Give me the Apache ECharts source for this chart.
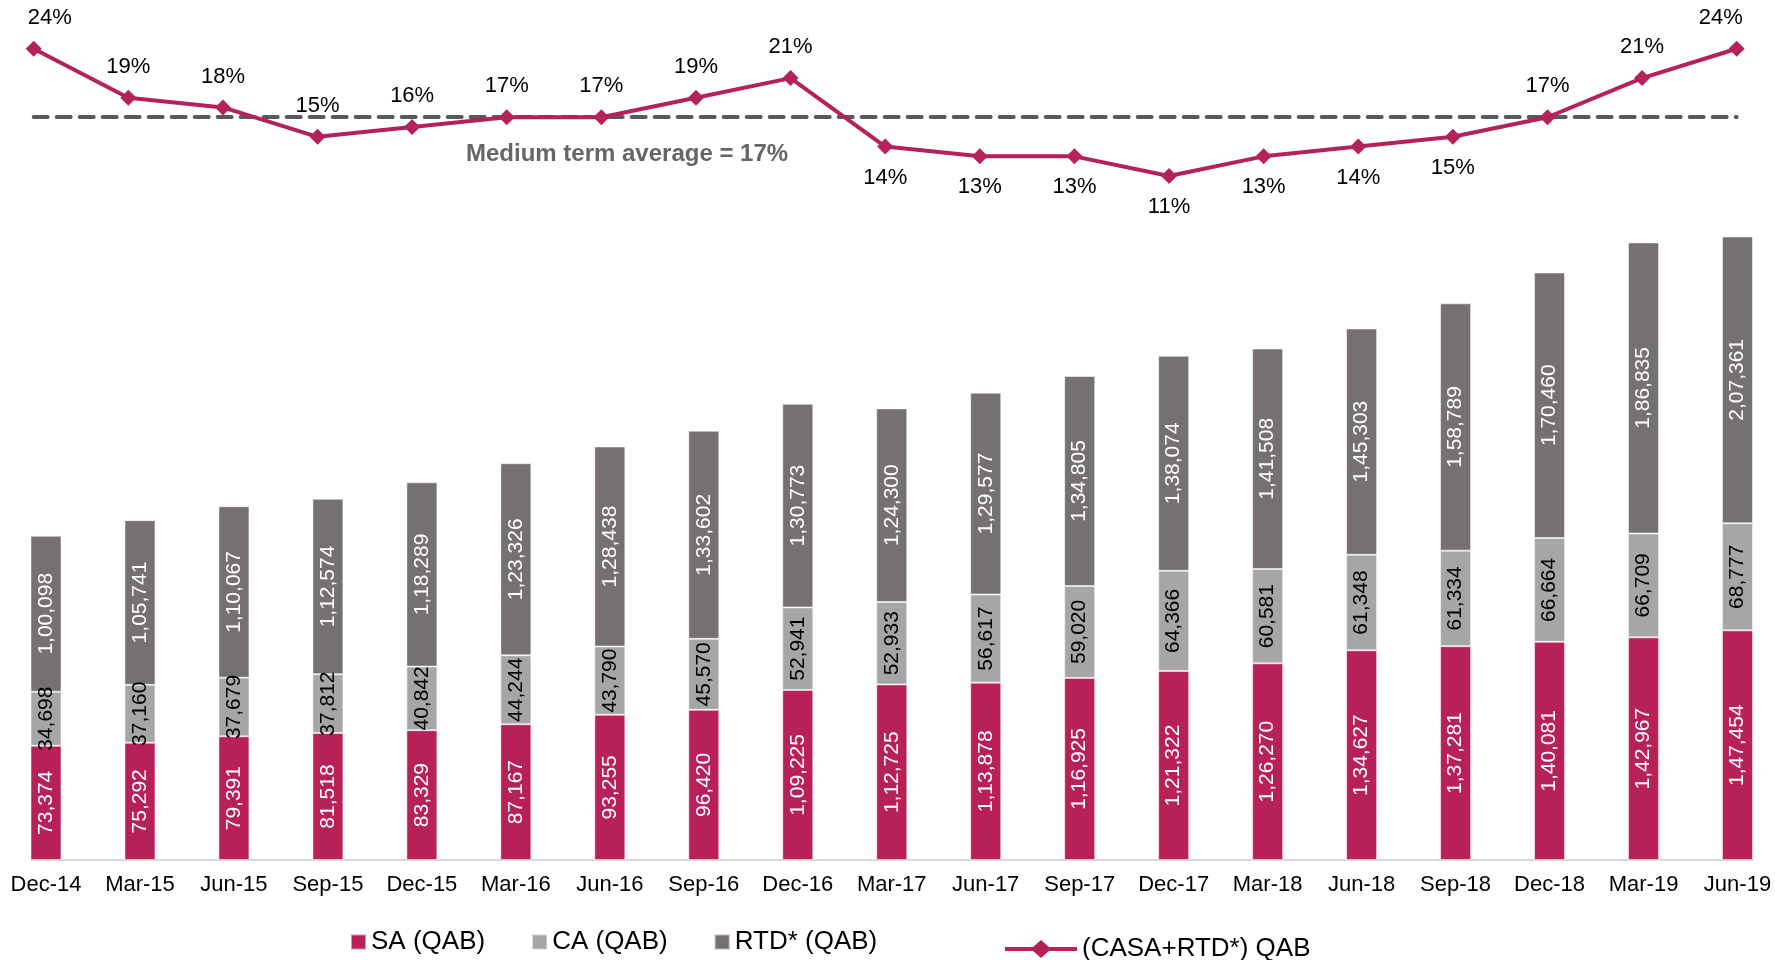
<!DOCTYPE html>
<html>
<head>
<meta charset="utf-8">
<script src="https://cdn.jsdelivr.net/npm/echarts@6/dist/echarts.min.js"></script>
<style>
html, body { margin: 0; padding: 0; background: #fff; }
#container { width: 1775px; height: 960px; }
</style>
</head>
<body>
<div id="container"></div>
<script>
var quarters = ['Dec-14','Mar-15','Jun-15','Sep-15','Dec-15','Mar-16','Jun-16','Sep-16','Dec-16','Mar-17',
                'Jun-17','Sep-17','Dec-17','Mar-18','Jun-18','Sep-18','Dec-18','Mar-19','Jun-19'];
var saValues = [73374, 75292, 79391, 81518, 83329, 87167, 93255, 96420, 109225, 112725,
                113878, 116925, 121322, 126270, 134627, 137281, 140081, 142967, 147454];
var caValues = [34698, 37160, 37679, 37812, 40842, 44244, 43790, 45570, 52941, 52933,
                56617, 59020, 64366, 60581, 61348, 61334, 66664, 66709, 68777];
var rtdValues = [100098, 105741, 110067, 112574, 118289, 123326, 128438, 133602, 130773, 124300,
                 129577, 134805, 138074, 141508, 145303, 158789, 170460, 186835, 207361];
var growthPct = [24, 19, 18, 15, 16, 17, 17, 19, 21, 14, 13, 13, 11, 13, 14, 15, 17, 21, 24];
var averagePct = 17;
var barAxisMax = 400000;

var dom = document.getElementById("container");
var myChart = echarts.init(dom);
var font = 'Liberation Sans, Arial, sans-serif';

// indian style grouping, e.g. 1,00,098
function inr(v) {
    var s = String(v);
    if (s.length <= 3) return s;
    var last3 = s.slice(-3);
    var rest = s.slice(0, -3);
    return rest.replace(/\B(?=(\d{2})+(?!\d))/g, ',') + ',' + last3;
}

var labelsBelow = [9, 10, 11, 12, 13, 14, 15];
var lineData = growthPct.map(function (v, i) {
    var item = { value: v, label: { position: labelsBelow.indexOf(i) >= 0 ? 'bottom' : 'top' } };
    if (i === 0) item.label.offset = [16, 0];
    if (i === growthPct.length - 1) item.label.offset = [-16, 0];
    return item;
});

function barLabel(color) {
    return {
        show: true,
        position: 'inside',
        rotate: 90,
        color: color,
        fontFamily: font,
        fontSize: 21,
        formatter: function (p) { return inr(p.value); }
    };
}

// line + diamond legend marker
var lineIcon = 'path://M0,7 L28,7 L36,0 L44,7 L72,7 L72,11 L44,11 L36,18 L28,11 L0,11 Z';

var option = {
    backgroundColor: '#ffffff',
    animation: false,
    textStyle: { fontFamily: font },
    legend: [
        {
            data: ['SA (QAB)', 'CA (QAB)', 'RTD* (QAB)'],
            left: 345,
            top: 924,
            icon: 'rect',
            itemWidth: 15,
            itemHeight: 15,
            itemGap: 46,
            textStyle: { fontSize: 26, color: '#000', fontFamily: font }
        },
        {
            data: ['(CASA+RTD*) QAB'],
            left: 1000,
            top: 931,
            icon: lineIcon,
            itemWidth: 72,
            itemHeight: 18,
            textStyle: { fontSize: 26, color: '#000', fontFamily: font }
        }
    ],
    grid: [
        { left: 46, right: 37.5, top: 237, bottom: 100 },
        { left: 33.7, right: 38.3, top: 39, height: 146.7 },
        { left: 30.5, right: 22, top: 237, bottom: 100 }
    ],
    xAxis: [
        {
            type: 'category',
            gridIndex: 0,
            data: quarters,
            boundaryGap: false,
            axisLine: { show: false },
            axisTick: { show: false },
            axisLabel: { fontSize: 22, color: '#000', margin: 14, fontFamily: font, interval: 0 }
        },
        {
            type: 'category',
            gridIndex: 1,
            data: quarters,
            boundaryGap: false,
            show: false
        },
        {
            type: 'value',
            gridIndex: 2,
            min: 0,
            max: 1,
            axisLine: { show: true, lineStyle: { color: '#d9d9d9', width: 2 } },
            axisTick: { show: false },
            axisLabel: { show: false },
            splitLine: { show: false }
        }
    ],
    yAxis: [
        { type: 'value', gridIndex: 0, min: 0, max: barAxisMax, show: false },
        { type: 'value', gridIndex: 1, min: 10, max: 25, show: false },
        { type: 'value', gridIndex: 2, show: false }
    ],
    graphic: [
        {
            type: 'text',
            left: 466,
            top: 142,
            style: {
                text: 'Medium term average = ' + averagePct + '%',
                fill: '#666666',
                font: 'bold 24px ' + font
            }
        }
    ],
    series: [
        {
            name: 'SA (QAB)',
            type: 'bar',
            stack: 'qab',
            xAxisIndex: 0,
            yAxisIndex: 0,
            barWidth: 31,
            data: saValues,
            itemStyle: { color: '#b82158', borderColor: 'rgba(255,255,255,0.5)', borderWidth: 1 },
            label: barLabel('#ffffff')
        },
        {
            name: 'CA (QAB)',
            type: 'bar',
            stack: 'qab',
            xAxisIndex: 0,
            yAxisIndex: 0,
            barWidth: 31,
            data: caValues,
            itemStyle: { color: '#a6a6a6', borderColor: 'rgba(255,255,255,0.5)', borderWidth: 1 },
            label: barLabel('#000000')
        },
        {
            name: 'RTD* (QAB)',
            type: 'bar',
            stack: 'qab',
            xAxisIndex: 0,
            yAxisIndex: 0,
            barWidth: 31,
            data: rtdValues,
            itemStyle: { color: '#767171', borderColor: 'rgba(255,255,255,0.5)', borderWidth: 1 },
            label: barLabel('#ffffff')
        },
        {
            name: '(CASA+RTD*) QAB',
            type: 'line',
            xAxisIndex: 1,
            yAxisIndex: 1,
            data: lineData,
            symbol: 'diamond',
            symbolSize: 16,
            z: 5,
            lineStyle: { color: '#b5215a', width: 4 },
            itemStyle: { color: '#b5215a' },
            label: {
                show: true,
                distance: 12,
                fontSize: 22,
                color: '#000',
                fontFamily: font,
                formatter: '{c}%'
            },
            markLine: {
                silent: true,
                symbol: 'none',
                z: 1,
                label: { show: false },
                lineStyle: { color: '#595959', width: 4, type: [14, 9], cap: 'round' },
                data: [{ yAxis: averagePct }]
            }
        }
    ]
};

if (option && typeof option === "object") {
    myChart.setOption(option, true);
}
</script>
</body>
</html>
